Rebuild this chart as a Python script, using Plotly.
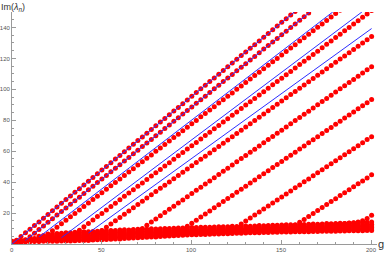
import plotly.graph_objects as go

# g grid (horizontal axis)
G = [0, 2.5, 5, 7.5, 10, 12.5, 15, 17.5, 20, 22.5, 25, 27.5, 30, 32.5, 35, 37.5, 40, 42.5, 45, 47.5,
     50, 52.5, 55, 57.5, 60, 62.5, 65, 67.5, 70, 72.5, 75, 77.5, 80, 82.5, 85, 87.5, 90, 92.5, 95, 97.5,
     100, 102.5, 105, 107.5, 110, 112.5, 115, 117.5, 120, 122.5, 125, 127.5, 130, 132.5, 135, 137.5,
     140, 142.5, 145, 147.5, 150, 152.5, 155, 157.5, 160, 162.5, 165, 167.5, 170, 172.5, 175, 177.5,
     180, 182.5, 185, 187.5, 190, 192.5, 195, 197.5, 200]

# dense low band of eigenvalues (Im values at every g of G)
BAND0 = [0.6, 1.3, 1.3, 1.4, 1.5, 1.6, 1.6, 1.7, 1.7, 1.8, 1.8, 1.9, 1.9, 2.0, 2.1, 2.2, 2.3, 2.4, 2.6, 2.7,
         2.8, 2.9, 3.1, 3.2, 3.3, 3.5, 3.7, 3.8, 4.0, 4.2, 4.3, 4.5, 4.6, 4.8, 5.0, 5.1, 5.3, 5.5, 5.6, 5.8,
         5.9, 6.0, 6.1, 6.2, 6.3, 6.4, 6.5, 6.6, 6.7, 6.8, 6.9, 7.0, 7.1, 7.2, 7.3, 7.3, 7.4, 7.5, 7.6, 7.6,
         7.7, 7.8, 7.8, 7.9, 7.9, 8.0, 8.0, 8.1, 8.1, 8.2, 8.2, 8.3, 8.3, 8.4, 8.4, 8.5, 8.5, 8.6, 8.6, 8.7, 8.7]
BAND1 = [0.9, 1.4, 1.5, 1.7, 1.9, 2.1, 2.2, 2.3, 2.5, 2.6, 2.7, 2.8, 2.9, 3.0, 3.1, 3.2, 3.4, 3.5, 3.6, 3.8,
         3.9, 4.0, 4.2, 4.3, 4.4, 4.6, 4.7, 4.9, 5.0, 5.2, 5.3, 5.4, 5.6, 5.7, 5.9, 6.0, 6.2, 6.3, 6.5, 6.6,
         6.8, 6.9, 6.9, 7.0, 7.1, 7.2, 7.3, 7.4, 7.5, 7.6, 7.7, 7.8, 7.9, 8.0, 8.0, 8.1, 8.2, 8.3, 8.4, 8.4,
         8.5, 8.6, 8.6, 8.7, 8.8, 8.8, 8.9, 8.9, 9.0, 9.0, 9.1, 9.1, 9.2, 9.3, 9.3, 9.4, 9.4, 9.5, 9.6, 9.6, 9.7]
BAND2 = [1.2, 1.5, 1.8, 2.1, 2.4, 2.6, 2.8, 3.0, 3.2, 3.4, 3.6, 3.8, 3.9, 4.0, 4.2, 4.3, 4.4, 4.6, 4.7, 4.9,
         5.0, 5.1, 5.3, 5.4, 5.5, 5.6, 5.8, 5.9, 6.1, 6.2, 6.3, 6.4, 6.6, 6.7, 6.8, 7.0, 7.1, 7.2, 7.4, 7.5,
         7.6, 7.7, 7.8, 7.9, 8.0, 8.1, 8.1, 8.2, 8.3, 8.4, 8.5, 8.6, 8.7, 8.8, 8.8, 8.9, 9.0, 9.1, 9.2, 9.3,
         9.4, 9.4, 9.5, 9.5, 9.6, 9.7, 9.7, 9.8, 9.9, 9.9, 10.0, 10.0, 10.1, 10.2, 10.2, 10.3, 10.4, 10.4, 10.5, 10.6, 10.7]
BAND3 = [1.5, 1.6, 2.0, 2.4, 2.8, 3.1, 3.3, 3.6, 4.0, 4.2, 4.5, 4.7, 4.9, 5.0, 5.2, 5.3, 5.5, 5.6, 5.8, 5.9,
         6.1, 6.2, 6.4, 6.5, 6.6, 6.7, 6.8, 7.0, 7.1, 7.2, 7.3, 7.4, 7.5, 7.6, 7.8, 7.9, 8.0, 8.1, 8.2, 8.3,
         8.5, 8.6, 8.6, 8.7, 8.8, 8.9, 8.9, 9.0, 9.1, 9.2, 9.3, 9.3, 9.4, 9.5, 9.6, 9.7, 9.8, 9.9, 10.0, 10.1,
         10.2, 10.3, 10.3, 10.4, 10.5, 10.5, 10.6, 10.6, 10.7, 10.8, 10.9, 10.9, 11.0, 11.1, 11.1, 11.2, 11.3, 11.4, 11.5, 11.6, 11.7]
BAND4 = [1.8, 1.7, 2.2, 2.7, 3.2, 3.6, 3.9, 4.3, 4.7, 5.1, 5.4, 5.7, 5.9, 6.1, 6.2, 6.4, 6.5, 6.7, 6.9, 7.0,
         7.2, 7.3, 7.5, 7.6, 7.7, 7.8, 7.9, 8.0, 8.1, 8.2, 8.3, 8.4, 8.5, 8.6, 8.7, 8.8, 8.9, 9.0, 9.1, 9.2,
         9.3, 9.4, 9.5, 9.5, 9.6, 9.7, 9.8, 9.8, 9.9, 10.0, 10.1, 10.1, 10.2, 10.3, 10.4, 10.5, 10.6, 10.7, 10.8, 10.9,
         11.0, 11.1, 11.2, 11.2, 11.3, 11.4, 11.5, 11.5, 11.6, 11.7, 11.8, 11.8, 11.9, 12.0, 12.1, 12.1, 12.2, 12.3, 12.5, 12.6, 12.7]
BAND5_G0 = 15
BAND5 = [5.0, 5.5, 6.0, 6.5, 6.8, 7.0, 7.3, 7.3, 7.6, 7.6, 7.9, 8.0, 8.1, 8.3, 8.5, 8.6, 8.8, 8.8, 9.0, 9.2,
         9.1, 9.3, 9.5, 9.4, 9.6, 9.8, 9.7, 9.9, 10.1, 10.0, 10.2, 10.4, 10.3, 10.5, 10.7, 10.6, 10.8, 10.9, 10.8, 11.0,
         11.2, 11.1, 11.2, 11.4, 11.3, 11.5, 11.6, 11.5, 11.7, 11.9, 11.8, 12.0, 12.2, 12.1, 12.3, 12.4, 12.4, 12.5,
         12.7, 12.6, 12.8, 12.9, 12.8, 13.0, 13.2, 13.1, 13.2, 13.4, 13.3, 13.5, 13.6, 13.7, 13.9, 14.0, 14.2]

# rising eigenvalue branches: first g value of each, then Im values on the G grid
S1_G0 = 0
S1 = [0.0, 2.4, 4.8, 7.2, 9.6, 11.9, 14.3, 16.7, 19.1, 21.5, 23.9, 26.3, 28.7, 31.0, 33.4, 35.8, 38.2, 40.6, 43.0, 45.4,
      47.8, 50.1, 52.5, 54.9, 57.3, 59.7, 62.1, 64.5, 66.9, 69.2, 71.6, 74.0, 76.4, 78.8, 81.2, 83.6, 86.0, 88.3, 90.7, 93.1,
      95.5, 97.9, 100.3, 102.7, 105.1, 107.4, 109.8, 112.2, 114.6, 117.0, 119.4, 121.8, 124.2, 126.5, 128.9, 131.3, 133.7,
      136.1, 138.5, 140.9, 143.3, 145.6, 148.0, 150.4]
S2_G0 = 5
S2 = [0.0, 2.3, 4.7, 7.0, 9.3, 11.7, 14.0, 16.3, 18.7, 21.0, 23.3, 25.7, 28.0, 30.3, 32.7, 35.0, 37.3, 39.7, 42.0, 44.3,
      46.7, 49.0, 51.3, 53.6, 56.0, 58.3, 60.6, 63.0, 65.3, 67.6, 70.0, 72.3, 74.6, 77.0, 79.3, 81.6, 84.0, 86.3, 88.6, 91.0,
      93.3, 95.6, 98.0, 100.3, 102.6, 105.0, 107.3, 109.6, 112.0, 114.3, 116.6, 119.0, 121.3, 123.6, 126.0, 128.3, 130.6,
      132.9, 135.3, 137.6, 139.9, 142.3, 144.6, 146.9, 149.3]
S3_G0 = 15
S3 = [2.0, 4.2, 6.4, 8.6, 10.9, 13.1, 15.3, 17.6, 19.8, 22.0, 24.2, 26.5, 28.7, 30.9, 33.1, 35.4, 37.6, 39.8, 42.1, 44.3,
      46.5, 48.7, 51.0, 53.2, 55.4, 57.6, 59.9, 62.1, 64.3, 66.6, 68.8, 71.0, 73.2, 75.5, 77.7, 79.9, 82.2, 84.4, 86.6, 88.8,
      91.1, 93.3, 95.5, 97.7, 100.0, 102.2, 104.4, 106.7, 108.9, 111.1, 113.3, 115.6, 117.8, 120.0, 122.2, 124.5, 126.7,
      128.9, 131.2, 133.4, 135.6, 137.8, 140.1, 142.3, 144.5, 146.8, 149.0, 151.2]
S4_G0 = 30
S4 = [2.4, 4.5, 6.7, 8.9, 11.1, 13.3, 15.5, 17.7, 19.8, 22.0, 24.2, 26.4, 28.6, 30.8, 33.0, 35.1, 37.3, 39.5, 41.7, 43.9,
      46.1, 48.2, 50.4, 52.6, 54.8, 57.0, 59.2, 61.4, 63.5, 65.7, 67.9, 70.1, 72.3, 74.5, 76.6, 78.8, 81.0, 83.2, 85.4, 87.6,
      89.8, 91.9, 94.1, 96.3, 98.5, 100.7, 102.9, 105.0, 107.2, 109.4, 111.6, 113.8, 116.0, 118.2, 120.3, 122.5, 124.7,
      126.9, 129.1, 131.3, 133.5, 135.6, 137.8, 140.0, 142.2, 144.4, 146.6, 148.7, 150.9]
S5_G0 = 42.5
S5 = [2.5, 4.6, 6.7, 8.8, 10.9, 13.0, 15.0, 17.1, 19.2, 21.3, 23.4, 25.5, 27.6, 29.7, 31.8, 33.9, 36.0, 38.0, 40.1, 42.2,
      44.3, 46.4, 48.5, 50.6, 52.7, 54.8, 56.8, 58.9, 61.0, 63.1, 65.2, 67.3, 69.4, 71.5, 73.6, 75.7, 77.7, 79.8, 81.9, 84.0,
      86.1, 88.2, 90.3, 92.4, 94.5, 96.6, 98.6, 100.7, 102.8, 104.9, 107.0, 109.1, 111.2, 113.3, 115.4, 117.5, 119.6,
      121.6, 123.7, 125.8, 127.9, 130.0, 132.1, 134.2]
S6_G0 = 70
S6 = [8.0, 10.1, 12.1, 14.2, 16.2, 18.3, 20.3, 22.4, 24.4, 26.5, 28.5, 30.6, 32.6, 34.7, 36.7, 38.8, 40.8, 42.9, 44.9,
      47.0, 49.0, 51.1, 53.1, 55.2, 57.2, 59.3, 61.3, 63.4, 65.4, 67.5, 69.5, 71.6, 73.6, 75.7, 77.7, 79.8, 81.8, 83.9,
      85.9, 88.0, 90.0, 92.1, 94.1, 96.2, 98.2, 100.3, 102.3, 104.4, 106.4, 108.5, 110.5, 112.6, 114.6]
S7_G0 = 92.5
S7 = [7.4, 9.4, 11.4, 13.4, 15.4, 17.4, 19.4, 21.4, 23.4, 25.4, 27.4, 29.4, 31.4, 33.4, 35.4, 37.4, 39.4, 41.4, 43.4,
      45.4, 47.4, 49.4, 51.4, 53.4, 55.4, 57.4, 59.4, 61.4, 63.4, 65.4, 67.4, 69.4, 71.4, 73.4, 75.4, 77.4, 79.4, 81.4,
      83.4, 85.4, 87.4, 89.4, 91.4, 93.4]
S8_G0 = 122.5
S8 = [9.0, 10.9, 12.9, 14.8, 16.8, 18.7, 20.7, 22.6, 24.6, 26.5, 28.5, 30.4, 32.4, 34.3, 36.3, 38.2, 40.2, 42.1, 44.1,
      46.0, 48.0, 49.9, 51.9, 53.8, 55.8, 57.7, 59.7, 61.6, 63.6, 65.5, 67.5, 69.4]
S9_G0 = 155
S9 = [10.2, 12.1, 14.0, 15.9, 17.8, 19.8, 21.7, 23.6, 25.5, 27.4, 29.3, 31.3, 33.2, 35.1, 37.0, 38.9, 40.8, 42.7, 44.7]
S10_G0 = 180
S10 = [12.8, 13.0, 13.2, 13.4, 13.7, 14.2, 15.0, 16.5, 18.6]

# asymptotic (blue) lines: start and end points
LINE_G_START = [0, 7.5, 15, 27.5, 42.5]
LINE_IM_START = [0, 2.3, 4.5, 4.1, 7.1]
LINE_G_END = [157.1, 165.8, 178.4, 194.6, 200]
LINE_IM_END = [150, 150, 150, 150, 139.3]

# tick labels
X_TICKS = [0, 50, 100, 150, 200]
Y_TICKS = [20, 40, 60, 80, 100, 120, 140]

RED = "#ff0000"
BLUE = "rgb(45,45,255)"

fig = go.Figure()

bands = [(0, BAND0), (0, BAND1), (0, BAND2), (0, BAND3), (0, BAND4), (BAND5_G0, BAND5)]
branches = [(S1_G0, S1), (S2_G0, S2), (S3_G0, S3), (S4_G0, S4), (S5_G0, S5),
            (S6_G0, S6), (S7_G0, S7), (S8_G0, S8), (S9_G0, S9), (S10_G0, S10)]
for g0, vals in bands + branches:
    i0 = G.index(g0)
    xs = G[i0:i0 + len(vals)]
    assert len(xs) == len(vals)
    fig.add_trace(go.Scatter(x=xs, y=vals, mode="markers",
                             marker=dict(color=RED, size=5, line=dict(width=0)),
                             showlegend=False, hoverinfo="skip"))

for gs, ys, ge, ye in zip(LINE_G_START, LINE_IM_START, LINE_G_END, LINE_IM_END):
    fig.add_trace(go.Scatter(x=[gs, ge], y=[ys, ye], mode="lines",
                             line=dict(color=BLUE, width=1),
                             showlegend=False, hoverinfo="skip"))

AX = "#9a9a9a"
TXT = "#555555"
FONT = "Liberation Sans"

y_minor = [v for v in range(0, 151, 5) if v % 20 != 0]
x_minor = [v for v in range(0, 201, 10) if v % 50 != 0]

annotations = [
    dict(text="Im(<i>λ</i><sub><i>n</i></sub>)", xref="paper", yref="paper",
         x=0, y=1, xshift=-13, yshift=5, xanchor="left", yanchor="middle",
         showarrow=False, font=dict(size=9, color="#333333", family=FONT)),
    dict(text="g", xref="paper", yref="paper",
         x=1, y=0, xshift=4, yshift=0, xanchor="center", yanchor="middle",
         showarrow=False, font=dict(size=11, color="#333333", family=FONT)),
]
for v in X_TICKS:
    annotations.append(dict(text=str(v), xref="x", yref="paper", x=v, y=0, yshift=-6,
                            xanchor="center", yanchor="middle", showarrow=False,
                            font=dict(size=6, color=TXT, family=FONT)))

fig.update_layout(
    width=390, height=255,
    margin=dict(l=12, r=13, t=12, b=11),
    paper_bgcolor="white", plot_bgcolor="white",
    font=dict(family=FONT, color=TXT),
    hovermode=False,
    xaxis=dict(range=[0, 203], showgrid=False, zeroline=False,
               showline=True, linecolor=AX, linewidth=1,
               tickmode="array", tickvals=X_TICKS, showticklabels=False,
               ticks="inside", ticklen=4, tickcolor=AX, tickwidth=1,
               minor=dict(tickmode="array", tickvals=x_minor, ticks="inside", ticklen=2,
                          tickcolor=AX, tickwidth=1, showgrid=False),
               automargin=False),
    yaxis=dict(range=[0, 150], showgrid=False, zeroline=False,
               showline=True, linecolor=AX, linewidth=1,
               tickmode="array", tickvals=Y_TICKS, ticktext=[str(v) for v in Y_TICKS],
               ticks="inside", ticklen=4, tickcolor=AX, tickwidth=1,
               tickfont=dict(size=6, color=TXT, family=FONT),
               minor=dict(tickmode="array", tickvals=y_minor, ticks="inside", ticklen=2,
                          tickcolor=AX, tickwidth=1, showgrid=False),
               automargin=False),
    annotations=annotations,
)

fig.write_html("out.html",
               config={"displayModeBar": False, "staticPlot": True},
               post_script="document.body.style.margin='0';document.body.style.padding='0';document.body.style.overflow='hidden';")
